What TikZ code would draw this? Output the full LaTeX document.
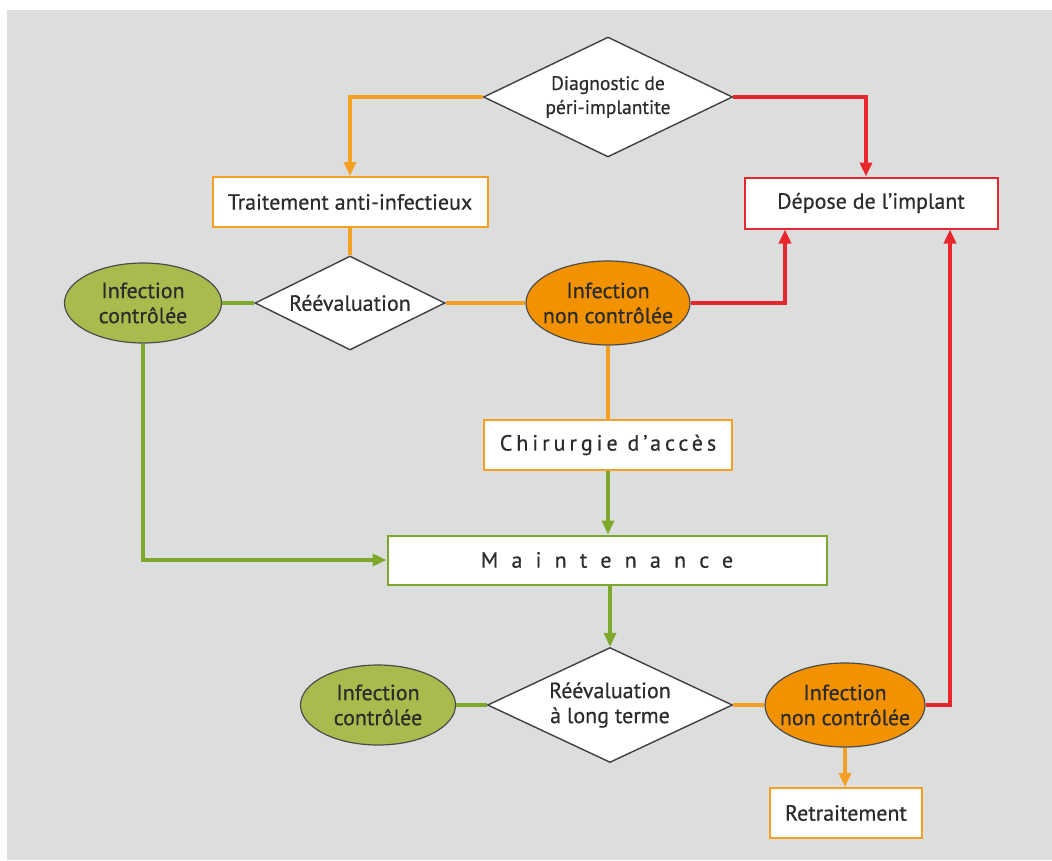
\documentclass[tikz,border=0pt]{standalone}
\usepackage{fontspec}
\setmainfont{PT Sans}[FakeBold=0.5]
\usetikzlibrary{shapes.geometric,arrows.meta}
\definecolor{bg}{HTML}{DCDEDE}
\definecolor{org}{HTML}{F6A023}
\definecolor{orgfill}{HTML}{F39200}
\definecolor{grn}{HTML}{7EA82C}
\definecolor{grnfill}{HTML}{A8BB4C}
\definecolor{rd}{HTML}{E8262E}
\definecolor{txt}{HTML}{2C2C2C}
\tikzset{
  base/.style={inner xsep=-30pt, inner ysep=-10pt, align=center, text=txt, font=\fontsize{22}{25}\selectfont},
  boxo/.style={base, rectangle, draw=org, line width=2pt, fill=white},
  boxr/.style={base, rectangle, draw=rd, line width=2pt, fill=white},
  boxg/.style={base, rectangle, draw=grn, line width=2pt, fill=white},
  dia/.style={base, diamond, shape aspect=2, draw=black!75, line width=1.4pt, fill=white},
  ellg/.style={base, ellipse, draw=black!70, line width=1.2pt, fill=grnfill},
  ello/.style={base, ellipse, draw=black!70, line width=1.2pt, fill=orgfill},
  lo/.style={draw=org, line width=4pt},
  lg/.style={draw=grn, line width=4pt},
  lr/.style={draw=rd, line width=4pt},
  tip/.style={-{Triangle[length=14pt,width=12pt]}}
}
\begin{document}
\begin{tikzpicture}[x=1pt,y=-1pt]
\useasboundingbox (0,0) rectangle (1052,860);
\fill[white] (0,0) rectangle (1052,860);
\fill[bg] (7,10) rectangle (1052,860);

\node[dia, minimum width=249pt, minimum height=120pt, font=\fontsize{19.5}{24}\selectfont] (diag) at (608,97) {Diagnostic de\\péri-implantite};
\node[boxo, minimum width=275pt, minimum height=50pt] (trait) at (350,202) {Traitement anti-infectieux};
\node[boxr, minimum width=253pt, minimum height=51pt] (depose) at (871,203) {Dépose de l’implant};
\node[dia, minimum width=190pt, minimum height=94pt] (reeval) at (350,303) {Réévaluation};
\node[ellg, minimum width=157pt, minimum height=80pt] (icA) at (143,303) {Infection\\contrôlée};
\node[ello, minimum width=164pt, minimum height=84pt] (incA) at (608,303) {Infection\\non contrôlée};
\node[boxo, minimum width=248pt, minimum height=50pt] (chir) at (608,445) {\addfontfeature{LetterSpace=18}Chirurgie d'accès};
\node[boxg, minimum width=439pt, minimum height=49pt] (maint) at (607,560) {\addfontfeature{LetterSpace=60}Maintenance};
\node[dia, minimum width=245pt, minimum height=115pt] (reevalL) at (610,705) {Réévaluation\\à long terme};
\node[ellg, minimum width=155pt, minimum height=80pt] (icB) at (378,705) {Infection\\contrôlée};
\node[ello, minimum width=160pt, minimum height=84pt] (incB) at (845,705) {Infection\\non contrôlée};
\node[boxo, minimum width=152pt, minimum height=50pt] (retr) at (846,813) {Retraitement};

\coordinate (depA) at ([xshift=-86pt]depose.south);
\coordinate (depB) at ([xshift=79pt]depose.south);
\coordinate (depT) at ([xshift=-5pt]depose.north);

\draw[lo, tip] (diag.west) -| (trait.north);
\draw[lr, tip] (diag.east) -| (depT);
\draw[lo] (trait.south) -- (reeval.north);
\draw[lg] (icA.east) -- (reeval.west);
\draw[lo] (reeval.east) -- (incA.west);
\draw[lr, tip] (incA.east) -| (depA);
\draw[lo] (incA.south) -- (chir.north);
\draw[lg, tip] (chir.south) -- (chir.south |- maint.north);
\draw[lg, tip] (icA.south) |- (maint.west);
\draw[lg, tip] (maint.south -| reevalL.north) -- (reevalL.north);
\draw[lg] (reevalL.west) -- (icB.east);
\draw[lo] (reevalL.east) -- (incB.west);
\draw[lr, tip] (incB.east) -| (depB);
\draw[lo, tip] (incB.south) -- (incB.south |- retr.north);
\end{tikzpicture}
\end{document}
